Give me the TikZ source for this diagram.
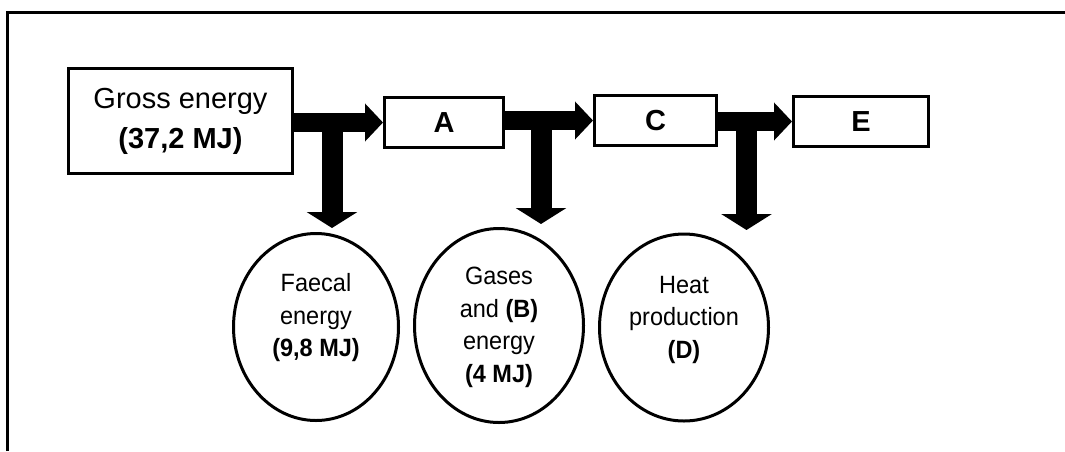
\documentclass[tikz,border=0pt]{standalone}
\usepackage{fontspec}
\setmainfont{Liberation Sans}
\newfontfamily\ovalfont[FakeStretch=0.94]{Liberation Sans}
\usetikzlibrary{arrows.meta,shapes.geometric}
\begin{document}
\begin{tikzpicture}[x=1pt,y=-1pt,
  box/.style={draw,line width=3pt,rectangle,inner sep=0pt,font=\fontsize{29}{40}\selectfont,align=center},
  oval/.style={draw,line width=3pt,ellipse,inner sep=0pt},
  otext/.style={font=\ovalfont\fontsize{25}{32.5}\selectfont,align=center,inner sep=0pt},
  harrow/.style={line width=19pt,-{Triangle[width=37pt,length=18pt]}},
  varrow/.style={line width=21pt,-{Triangle[width=50pt,length=16pt]}}]
\useasboundingbox (0,0) rectangle (1065,451);
\draw[line width=3pt] (7,451) -- (7,12) -- (1065,12);

\node[box,minimum width=224pt,minimum height=105pt] (g) at (180.5,121) {Gross energy\\\textbf{(37,2 MJ)}};
\node[box,minimum width=119pt,minimum height=50pt] (a) at (444,122.5) {\textbf{A}};
\node[box,minimum width=122pt,minimum height=50pt] (c) at (655.5,120.5) {\textbf{C}};
\node[box,minimum width=135pt,minimum height=50pt] (e) at (861,121.5) {\textbf{E}};

\node[oval,minimum width=165pt,minimum height=187pt] (f) at (316,327) {};
\node[oval,minimum width=169pt,minimum height=194pt] (s) at (499,325.5) {};
\node[oval,minimum width=169pt,minimum height=187pt] (h) at (684,327.5) {};

\node[otext] (ft) at ([yshift=9pt]f.center) {Faecal\\energy\\\textbf{(9,8 MJ)}};
\node[otext] (st) at ([yshift=-2pt]s.center) {Gases\\and \textbf{(B)}\\energy\\\textbf{(4 MJ)}};
\node[otext] (ht) at ([yshift=8pt]h.center) {Heat\\production\\\textbf{(D)}};

\draw[harrow] (g.east |- a.west) -- (a.west);
\draw[harrow] (a.east |- c.west) -- (c.west);
\draw[harrow] (c.east |- e.west) -- (e.west);

\coordinate (v1) at (332,122);
\coordinate (w1) at (332,228);
\coordinate (v2) at (541,121);
\coordinate (w2) at (541,224);
\coordinate (v3) at (746.5,122);
\coordinate (w3) at (746.5,230);
\draw[varrow] (v1) -- (w1);
\draw[varrow] (v2) -- (w2);
\draw[varrow] (v3) -- (w3);
\end{tikzpicture}
\end{document}
